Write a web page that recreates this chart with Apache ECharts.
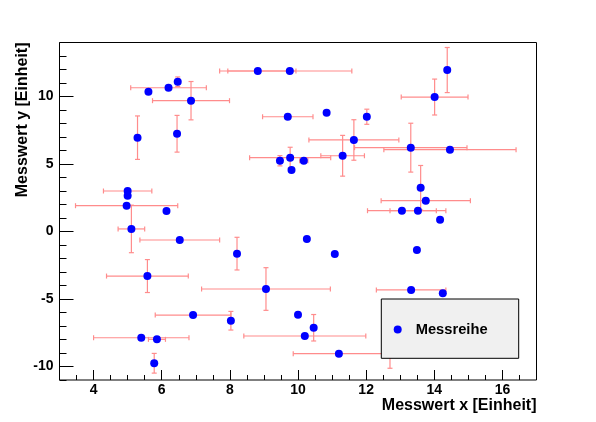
<!DOCTYPE html>
<html>
<head>
<meta charset="utf-8">
<script src="https://cdn.jsdelivr.net/npm/echarts@6/dist/echarts.min.js"></script>
<style>
html,body{margin:0;padding:0;background:#fff;}
#chart{width:596px;height:422px;}
</style>
</head>
<body>
<div id="chart"></div>
<script>
// ---- data ----
const xVals = [8.82, 9.76, 6.47, 6.20, 5.61, 6.86, 5.29, 6.45, 9.70, 10.84,
               12.02, 14.38, 14.01, 9.47, 9.77, 9.81, 10.17, 11.31, 11.64, 13.31,
               14.46, 13.60, 13.75, 13.05, 13.52, 14.17, 5.00, 5.00, 4.97, 6.14,
               5.11, 6.53, 10.26, 11.08, 13.49, 8.21, 5.58, 9.06, 13.32, 14.25,
               6.92, 8.03, 10.00, 10.46, 10.20, 5.40, 5.86, 5.78, 11.20, 12.70];
const yVals = [11.89, 11.89, 11.10, 10.65, 10.36, 9.69, 6.95, 7.24, 8.50, 8.80,
               8.50, 11.96, 9.96, 5.24, 5.47, 4.56, 5.24, 5.61, 6.78, 6.21,
               6.06, 3.24, 2.28, 1.54, 1.54, 0.87, 3.00, 2.65, 1.91, 1.52,
               0.19, -0.63, -0.56, -1.67, -1.37, -1.64, -3.30, -4.26, -4.33, -4.58,
               -6.19, -6.61, -6.16, -7.13, -7.74, -7.87, -7.99, -9.76, -9.05, -8.20];
const xErr  = [1.12, 1.82, 0, 1.11, 0, 1.13, 0, 0, 0.74, 0,
               0, 0, 0.98, 0, 1.19, 0, 0.12, 0.64, 1.32, 1.65,
               1.94, 0, 1.31, 1.01, 0.82, 0, 0.71, 0, 1.50, 0,
               0.39, 1.17, 0, 0, 0, 0, 1.20, 1.89, 1.02, 0,
               1.11, 0, 0, 0, 1.79, 1.40, 0.25, 0, 1.34, 0];
const yErr  = [0, 0, 0.35, 0, 0, 1.42, 1.61, 1.36, 0, 0,
               0.56, 1.67, 1.33, 0.38, 0.77, 0, 0, 1.51, 1.50, 1.81,
               0, 1.65, 0, 0, 0, 0, 0, 0, 0, 0,
               1.76, 0, 0, 0, 0, 1.21, 1.22, 1.58, 0, 0,
               0, 0.69, 0, 0.98, 0, 0, 0, 0.73, 0, 1.93];
const xMajorTicks = [4, 6, 8, 10, 12, 14, 16];
const yMajorTicks = [-10, -5, 0, 5, 10];
const seriesName = 'Messreihe';
const xTitle = 'Messwert x [Einheit]';
const yTitle = 'Messwert y [Einheit]';

const FONT = 'Liberation Sans';
const errColor = '#ff8c8c';

const points = xVals.map((x, i) => [x, yVals[i]]);
const errRows = xVals.map((x, i) => [x, yVals[i], xErr[i], yErr[i]]);

const chart = echarts.init(document.getElementById('chart'), null, {renderer: 'canvas'});

function renderErr(params, api) {
  const x = api.value(0), y = api.value(1), ex = api.value(2), ey = api.value(3);
  const c = api.coord([x, y]);
  const cap = 2.5;
  const st = {stroke: errColor, lineWidth: 1.2};
  const ch = [];
  if (ex > 0) {
    const l = api.coord([x - ex, y]), r = api.coord([x + ex, y]);
    ch.push({type: 'line', shape: {x1: l[0], y1: c[1], x2: r[0], y2: c[1]}, style: st});
    ch.push({type: 'line', shape: {x1: l[0], y1: c[1] - cap, x2: l[0], y2: c[1] + cap}, style: st});
    ch.push({type: 'line', shape: {x1: r[0], y1: c[1] - cap, x2: r[0], y2: c[1] + cap}, style: st});
  }
  if (ey > 0) {
    const t = api.coord([x, y + ey]), b = api.coord([x, y - ey]);
    ch.push({type: 'line', shape: {x1: c[0], y1: t[1], x2: c[0], y2: b[1]}, style: st});
    ch.push({type: 'line', shape: {x1: c[0] - cap, y1: t[1], x2: c[0] + cap, y2: t[1]}, style: st});
    ch.push({type: 'line', shape: {x1: c[0] - cap, y1: b[1], x2: c[0] + cap, y2: b[1]}, style: st});
  }
  return {type: 'group', children: ch};
}

const labelStyle = {color: '#000', fontFamily: FONT, fontWeight: 'bold', fontSize: 14};

const option = {
  backgroundColor: '#fff',
  animation: false,
  grid: {
    left: 59.5, top: 42.5, width: 477, height: 337.5,
    show: true, borderColor: '#000', borderWidth: 1, backgroundColor: 'transparent',
    containLabel: false, outerBoundsMode: 'none'
  },
  xAxis: [
    {
      type: 'value', min: 3, max: 17, position: 'bottom',
      name: xTitle, nameLocation: 'end', nameGap: 0, nameMoveOverlap: false,
      nameTextStyle: {color: '#000', fontFamily: FONT, fontWeight: 'bold', fontSize: 16,
                      align: 'right', verticalAlign: 'top', padding: [18, 0, 0, 0]},
      axisLine: {show: false, onZero: false},
      splitLine: {show: false},
      axisTick: {show: true, inside: true, length: 10, customValues: xMajorTicks,
                 lineStyle: {color: '#000', width: 1}},
      axisLabel: Object.assign({show: true, margin: 3, customValues: xMajorTicks}, labelStyle)
    },
    {
      type: 'value', min: 3, max: 17, interval: 0.5, position: 'bottom',
      axisLine: {show: false, onZero: false}, splitLine: {show: false},
      axisTick: {show: true, inside: true, length: 5, lineStyle: {color: '#000', width: 1}},
      axisLabel: {show: false}
    }
  ],
  yAxis: [
    {
      type: 'value', min: -11, max: 14, position: 'left',
      name: yTitle, nameLocation: 'end', nameGap: 0, nameRotate: 90, nameMoveOverlap: false,
      nameTextStyle: {color: '#000', fontFamily: FONT, fontWeight: 'bold', fontSize: 16,
                      align: 'right', verticalAlign: 'bottom', padding: [0, 0, 29, 0]},
      axisLine: {show: false, onZero: false},
      splitLine: {show: false},
      axisTick: {show: true, inside: true, length: 14, customValues: yMajorTicks,
                 lineStyle: {color: '#000', width: 1}},
      axisLabel: Object.assign({show: true, margin: 6, customValues: yMajorTicks}, labelStyle)
    },
    {
      type: 'value', min: -11, max: 14, interval: 1, position: 'left',
      axisLine: {show: false, onZero: false}, splitLine: {show: false},
      axisTick: {show: true, inside: true, length: 7, lineStyle: {color: '#000', width: 1}},
      axisLabel: {show: false}
    }
  ],
  legend: {
    data: [seriesName],
    left: 393.7, top: 322, padding: 0,
    icon: 'circle', itemWidth: 8, itemHeight: 8,
    selectedMode: false, z: 60,
    textStyle: {color: '#000', fontFamily: FONT, fontWeight: 'bold', fontSize: 14.7, padding: [0, 0, 0, 9]}
  },
  graphic: {
    elements: [{
      type: 'rect', z: 50, silent: true,
      shape: {x: 381.3, y: 299, width: 137.4, height: 59.3},
      style: {fill: '#f0f0f0', stroke: '#000', lineWidth: 1}
    }]
  },
  series: [
    {
      type: 'custom', name: 'errors', xAxisIndex: 0, yAxisIndex: 0,
      renderItem: renderErr, data: errRows, z: 2,
      encode: {x: 0, y: 1}, silent: true
    },
    {
      type: 'scatter', name: seriesName, xAxisIndex: 0, yAxisIndex: 0,
      data: points, symbol: 'circle', symbolSize: 8, z: 3,
      itemStyle: {color: '#0000ff', opacity: 1}
    }
  ]
};
chart.setOption(option);
</script>
</body>
</html>
